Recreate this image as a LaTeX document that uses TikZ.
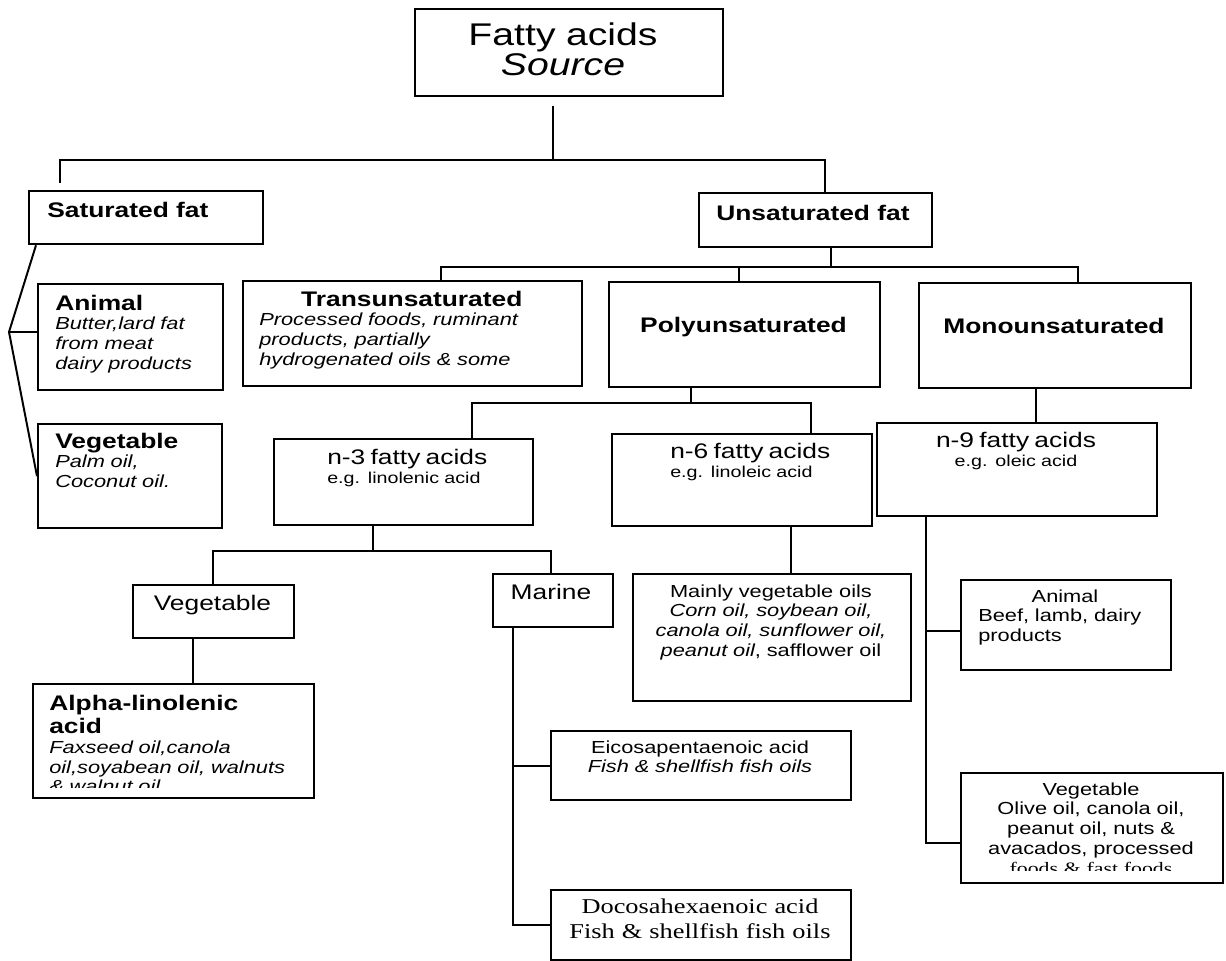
\documentclass[tikz,border=0pt]{standalone}
\usepackage{fontspec}
\setmainfont{Liberation Sans}[FakeStretch=1.25]
\newfontfamily\timesfont{Liberation Serif}[FakeStretch=1.25]
\usetikzlibrary{calc}
\tikzstyle{box} = [rectangle, draw=black, line width=1.6pt, anchor=north west, inner sep=0pt]
\tikzstyle{txt} = [inner sep=0pt, anchor=base west]
\tikzstyle{line} = [line width=1.4pt]
\newcommand{\hdfont}{\fontsize{15}{17}\selectfont\bfseries\upshape}
\newcommand{\bodyfont}{\fontsize{12.4}{14.2}\selectfont}
\newcommand{\nxfont}{\fontsize{15}{17}\selectfont}
\newcommand{\egfont}{\fontsize{11.2}{14.2}\selectfont}

\begin{document}
\begin{tikzpicture}[x=0.025cm, y=-0.025cm]
    \useasboundingbox (0,0) rectangle (1226,961);
    % boxes
    \node (root) [box, minimum width=7.7cm, minimum height=2.175cm] at (414,8) {};
    \node (sat) [box, minimum width=5.85cm, minimum height=1.325cm] at (28,190) {};
    \node (unsat) [box, minimum width=5.825cm, minimum height=1.35cm] at (698,192) {};
    \node (animal) [box, minimum width=4.625cm, minimum height=2.65cm] at (37,283) {};
    \node (vegS) [box, minimum width=4.6cm, minimum height=2.6cm] at (37,423) {};
    \node (trans) [box, minimum width=8.475cm, minimum height=2.625cm] at (242,280) {};
    \node (poly) [box, minimum width=6.775cm, minimum height=2.625cm] at (608,281) {};
    \node (mono) [box, minimum width=6.8cm, minimum height=2.625cm] at (918,282) {};
    \node (n3) [box, minimum width=6.475cm, minimum height=2.15cm] at (273,438) {};
    \node (n6) [box, minimum width=6.5cm, minimum height=2.3cm] at (611,433) {};
    \node (n9) [box, minimum width=7cm, minimum height=2.325cm] at (876,422) {};
    \node (vegN) [box, minimum width=4.025cm, minimum height=1.325cm] at (132,584) {};
    \node (marine) [box, minimum width=3cm, minimum height=1.325cm] at (492,573) {};
    \node (alpha) [box, minimum width=7.025cm, minimum height=2.85cm] at (32,683) {};
    \node (mainly) [box, minimum width=6.95cm, minimum height=3.175cm] at (632,573) {};
    \node (epa) [box, minimum width=7.5cm, minimum height=1.725cm] at (550,730) {};
    \node (dha) [box, minimum width=7.5cm, minimum height=1.75cm] at (550,889) {};
    \node (animalM) [box, minimum width=5.25cm, minimum height=2.25cm] at (960,579) {};
    \node (vegM) [box, minimum width=6.55cm, minimum height=2.75cm] at (960,772) {};

    % texts
    \node (rootT) [txt, anchor=base, text width=7cm, align=center, font=\fontsize{22.3}{22}\selectfont] at (563,45) {Fatty acids\\\textit{Source}};
    \node (satT) [txt, font=\hdfont] at (47,217) {Saturated fat};
    \node (unsatT) [txt, font=\hdfont] at (716,220) {Unsaturated fat};
    \node (animalT) [txt, text width=4.4cm, align=left, font=\bodyfont\itshape] at (55,310) {{\hdfont Animal}\\Butter,lard fat\\from meat\\dairy products};
    \node (vegST) [txt, text width=4.4cm, align=left, font=\bodyfont\itshape] at (55,448) {{\hdfont Vegetable}\\Palm oil,\\Coconut oil.};
    \node (transT) [txt, text width=7.625cm, align=left, font=\bodyfont\itshape] at (259,306) {\makebox[\linewidth]{\hdfont Transunsaturated}\\Processed foods, ruminant\\products, partially\\hydrogenated oils \& some};
    \node (polyT) [txt, anchor=base, font=\hdfont] at (743.5,332) {Polyunsaturated};
    \node (monoT) [txt, anchor=base, font=\hdfont] at (1054,333) {Monounsaturated};
    \node (n3T) [txt, text width=6cm, align=left, font=\egfont] at (327,464) {{\nxfont n-3 fatty acids}\\e.g. linolenic acid};
    \node (n6T) [txt, text width=6cm, align=left, font=\egfont] at (670,458) {{\nxfont n-6 fatty acids}\\e.g. linoleic acid};
    \node (n9T) [txt, anchor=base, text width=6.5cm, align=center, font=\egfont] at (1016,447) {{\nxfont n-9 fatty acids}\\e.g. oleic acid};
    \node (vegNT) [txt, anchor=base, font=\nxfont] at (212.5,610) {Vegetable};
    \node (marineT) [txt, anchor=base, font=\nxfont] at (551,599) {Marine};
    \begin{scope}
        \clip (alpha.north west) rectangle ($(alpha.south east)+(0,-12)$);
        \node (alphaT) [txt, text width=6.8cm, align=left, font=\bodyfont\itshape] at (49,710) {{\hdfont Alpha-linolenic}\\[2.2pt]{\hdfont acid}\\Faxseed oil,canola\\oil,soyabean oil, walnuts\\\& walnut oil};
    \end{scope}
    \node (mainlyT) [txt, anchor=base, text width=6.6cm, align=center, font=\bodyfont] at (771,597) {Mainly vegetable oils\hspace*{28pt}\\\textit{Corn oil, soybean oil,}\\\textit{canola oil, sunflower oil,}\\\textit{peanut oil}, safflower oil};
    \node (epaT) [txt, anchor=base, text width=7cm, align=center, font=\bodyfont] at (700,753) {Eicosapentaenoic acid\\\textit{Fish \& shellfish fish oils}};
    \node (dhaT) [txt, anchor=base, text width=7cm, align=center, font=\timesfont\fontsize{15}{17.8}\selectfont] at (700,913) {Docosahexaenoic acid\\Fish \& shellfish fish oils};
    \node (animalMT) [txt, text width=5cm, align=left, font=\bodyfont] at (978,602) {\hspace*{38pt}Animal\\Beef, lamb, dairy\\products};
    \begin{scope}
        \clip (vegM.north west) rectangle ($(vegM.south east)+(0,-14)$);
        \node (vegMT) [txt, anchor=base, text width=6.3cm, align=center, font=\bodyfont] at (1091,795) {Vegetable\\Olive oil, canola oil,\\peanut oil, nuts \&\\avacados, processed\\{\timesfont foods \& fast foods}};
    \end{scope}

    % connectors
    \coordinate (fkA) at (553,160);
    \coordinate (brSat) at (60,160);
    \coordinate (brUns) at (825,160);
    \draw [line] ($(fkA |- root.south)+(0,9)$) -- (fkA);
    \draw [line] ($(brSat |- sat.north)+(0,-7)$) -- (brSat) -- (brUns) -- (brUns |- unsat.north);

    \coordinate (kink) at (9,332);
    \draw [line] ($(sat.south west)+(8,0)$) -- (kink) -- (vegS.west);
    \draw [line] (kink) -- (kink -| animal.west);

    \coordinate (fkB) at (831,267);
    \coordinate (brTr) at (441,267);
    \coordinate (brPo) at (739,267);
    \coordinate (brMo) at (1078,267);
    \draw [line] (fkB |- unsat.south) -- (fkB);
    \draw [line] (brTr |- trans.north) -- (brTr) -- (brMo) -- (brMo |- mono.north);
    \draw [line] (brPo) -- (brPo |- poly.north);

    \coordinate (fkC) at (691,403);
    \coordinate (br3) at (472,403);
    \coordinate (br6) at (811,403);
    \draw [line] (fkC |- poly.south) -- (fkC);
    \draw [line] (br3 |- n3.north) -- (br3) -- (br6) -- (br6 |- n6.north);

    \coordinate (stD) at (1036,0);
    \draw [line] (stD |- mono.south) -- (stD |- n9.north);

    \coordinate (fkE) at (373,551);
    \coordinate (brV) at (213,551);
    \coordinate (brM) at (551,551);
    \draw [line] (fkE |- n3.south) -- (fkE);
    \draw [line] (brV |- vegN.north) -- (brV) -- (brM) -- (brM |- marine.north);

    \coordinate (stF) at (193,0);
    \draw [line] (stF |- vegN.south) -- (stF |- alpha.north);

    \coordinate (spM) at (513,0);
    \draw [line] (spM |- marine.south) -- (spM |- dha.west) -- (dha.west);
    \draw [line] (spM |- epa.west) -- (epa.west);

    \coordinate (stG) at (791,0);
    \draw [line] (stG |- n6.south) -- (stG |- mainly.north);

    \coordinate (spN) at (926,0);
    \coordinate (jA) at (926,631);
    \coordinate (jV) at (926,843);
    \draw [line] (spN |- n9.south) -- (jV) -- (jV -| vegM.west);
    \draw [line] (jA) -- (jA -| animalM.west);
\end{tikzpicture}
\end{document}
